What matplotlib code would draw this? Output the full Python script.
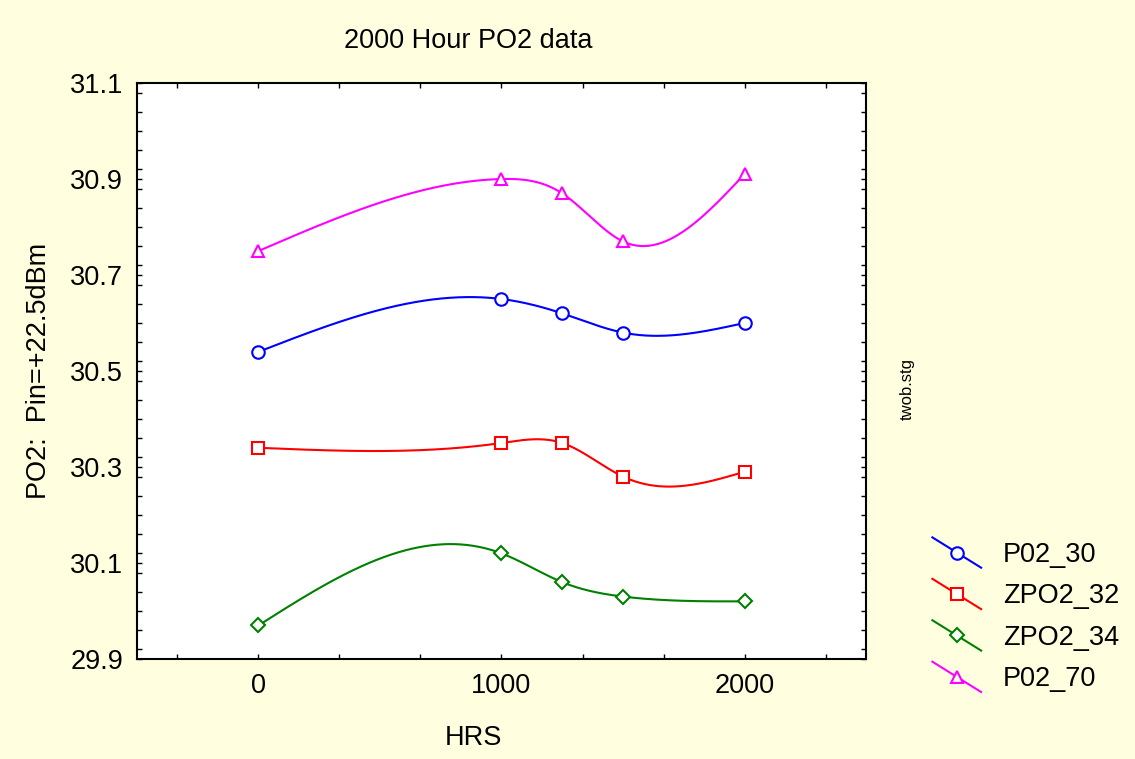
#!/usr/bin/env python3
import numpy as np
import matplotlib
matplotlib.use("Agg")
import matplotlib.pyplot as plt
from matplotlib.lines import Line2D
from matplotlib.legend_handler import HandlerLine2D
from matplotlib.ticker import MultipleLocator

plt.rcParams['font.family'] = ['Liberation Sans', 'DejaVu Sans']

hours = [0, 1000, 1250, 1500, 2000]
p02_30 = [30.54, 30.65, 30.62, 30.58, 30.60]
zpo2_32 = [30.34, 30.35, 30.35, 30.28, 30.29]
zpo2_34 = [29.97, 30.12, 30.06, 30.03, 30.02]
p02_70 = [30.75, 30.90, 30.87, 30.77, 30.91]

series = [("P02_30", p02_30, "#0000ff", "o"),
          ("ZPO2_32", zpo2_32, "#ff0000", "s"),
          ("ZPO2_34", zpo2_34, "#008000", "D"),
          ("P02_70", p02_70, "#ff00ff", "^")]


def natural_spline(x, y, xs):
    x = np.asarray(x, float)
    y = np.asarray(y, float)
    n = len(x)
    h = np.diff(x)
    A = np.zeros((n, n))
    b = np.zeros(n)
    A[0, 0] = A[-1, -1] = 1
    for i in range(1, n - 1):
        A[i, i - 1] = h[i - 1]
        A[i, i] = 2 * (h[i - 1] + h[i])
        A[i, i + 1] = h[i]
        b[i] = 6 * ((y[i + 1] - y[i]) / h[i] - (y[i] - y[i - 1]) / h[i - 1])
    m = np.linalg.solve(A, b)
    out = np.empty_like(xs)
    for k, t in enumerate(xs):
        i = min(max(np.searchsorted(x, t) - 1, 0), n - 2)
        a = x[i + 1] - t
        c = t - x[i]
        out[k] = (m[i] * a**3 + m[i + 1] * c**3) / (6 * h[i]) \
            + (y[i] / h[i] - m[i] * h[i] / 6) * a \
            + (y[i + 1] / h[i] - m[i + 1] * h[i] / 6) * c
    return out


class DiagHandler(HandlerLine2D):
    def create_artists(self, legend, orig_handle, xdescent, ydescent,
                       width, height, fontsize, trans):
        x0 = -xdescent
        x1 = -xdescent + width
        y0 = -ydescent + height * 1.3
        y1 = -ydescent - height * 0.3
        line = Line2D([x0, x1], [y0, y1])
        self.update_prop(line, orig_handle, legend)
        line.set_marker("None")
        mk = Line2D([(x0 + x1) / 2], [(y0 + y1) / 2])
        self.update_prop(mk, orig_handle, legend)
        mk.set_linestyle("None")
        line.set_transform(trans)
        mk.set_transform(trans)
        return [line, mk]


bg = "#ffffe0"
fig = plt.figure(figsize=(11.35, 7.59), dpi=100, facecolor=bg)
ax = fig.add_axes([0.1207, 0.1318, 0.6423, 0.7588])
ax.set_facecolor("white")

xs = np.linspace(0, 2000, 400)
handles = []
for name, vals, col, mk in series:
    size = 7 if mk == "D" else 9
    ax.plot(xs, natural_spline(hours, vals, xs), color=col, lw=1.5)
    ax.plot(hours, vals, linestyle="None", marker=mk, ms=size,
            mfc="white", mec=col, mew=1.5)
    handles.append(Line2D([], [], color=col, lw=1.5, marker=mk, ms=size,
                          mfc="white", mec=col, mew=1.5, label=name))

ax.set_xlim(-500, 2500)
ax.set_ylim(29.9, 31.1)
ax.set_xticks([0, 1000, 2000])
ax.xaxis.set_minor_locator(MultipleLocator(1000 / 3))
ax.set_yticks([29.9, 30.1, 30.3, 30.5, 30.7, 30.9, 31.1])
ax.set_yticklabels(["29.9", "30.1", "30.3", "30.5", "30.7", "30.9", "31.1"])
ax.yaxis.set_minor_locator(MultipleLocator(0.04))
ax.tick_params(which="both", direction="in", top=True, right=True,
               length=3.5, width=1, labelsize=19.5, pad=10)
for s in ax.spines.values():
    s.set_linewidth(1.5)

ax.set_title("2000 Hour PO2 data", fontsize=19.5, x=0.454, pad=25)
ax.set_xlabel("HRS", fontsize=19.5)
ax.xaxis.set_label_coords(0.461, -0.115)
ax.set_ylabel("PO2:  Pin=+22.5dBm", fontsize=19.5, labelpad=13)

fig.text(0.799, 0.487, "twob.stg", rotation=90, fontsize=12,
         ha="center", va="center")

fig.legend(handles=handles, loc="upper left", bbox_to_anchor=(0.8, 0.318),
           frameon=False, fontsize=19.5, handlelength=1.8, handletextpad=0.8,
           labelspacing=0.57, handler_map={Line2D: DiagHandler()})

fig.savefig("out.png", dpi=100, facecolor=bg)
